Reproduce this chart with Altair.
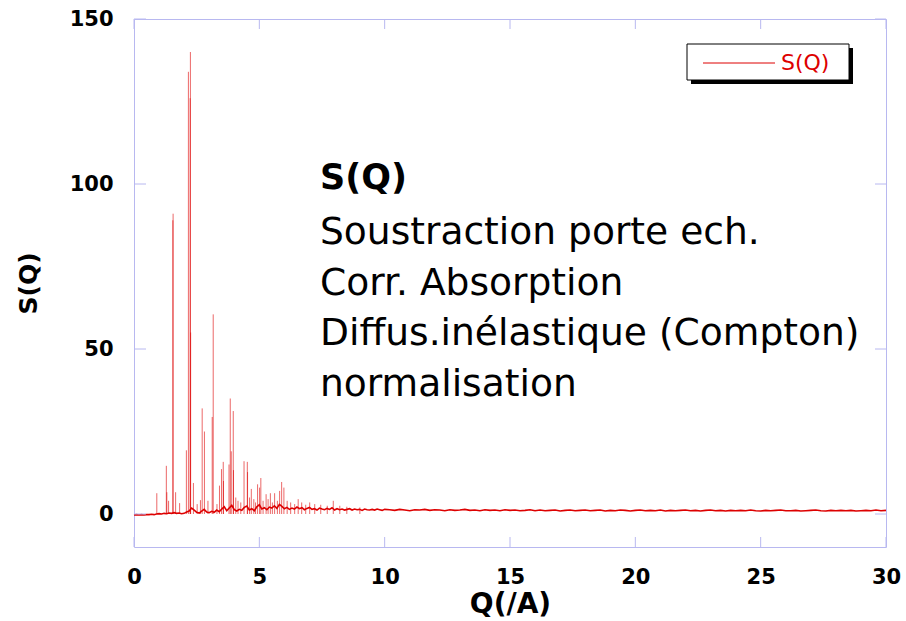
import altair as alt
import numpy as np
import pandas as pd

# Background level of S(Q), sampled every 0.1 up to Q = 10
base_q_low = np.round(np.arange(0.0, 10.0001, 0.1), 2)
base_s_low = [
    -0.3, -0.2, -0.3, -0.2, -0.3, -0.2, -0.2, -0.1, -0.2,
    0.0, 0.1, 0.0, 0.2, 0.1, 0.3, 0.2,
    0.4, 0.2, 0.3, 0.1, 0.2, 0.6, 0.9, 1.8, 1.2,
    0.5, 0.3, 0.9, 1.4, 0.6, 0.4, 0.8, 0.5, 1.2, 0.7,
    1.5, 2.2, 1.0, 1.8, 2.6, 1.3, 0.9, 1.4, 1.1, 2.0,
    2.4, 1.2, 1.6, 1.0, 2.2, 2.8, 1.5, 1.9, 1.3, 2.1,
    1.8, 2.5, 1.7, 2.9, 2.3, 1.6, 2.0, 1.4, 1.8, 1.5,
    2.1, 1.6, 1.9, 1.3, 1.7, 2.0, 1.4, 1.6, 1.2, 1.8,
    1.5, 1.3, 1.7, 1.4, 1.9, 1.2, 1.6, 1.3, 1.5, 1.2,
    1.4, 1.6, 1.2, 1.5, 1.3, 1.4, 1.1, 1.5, 1.3, 1.2,
    1.4, 1.2, 1.5, 1.3, 1.1, 1.4,
]

# ... and every 0.2 from Q = 10.2 to 30
base_q_high = np.round(np.arange(10.2, 30.0001, 0.2), 2)
base_s_high = [
    1.3, 1.1, 1.4, 1.2, 1.0, 1.3, 1.2, 1.4, 1.1, 1.3,
    1.2, 1.0, 1.3, 1.1, 1.2, 1.4, 1.1, 1.2, 1.0, 1.3,
    1.1, 1.2, 1.0, 1.3, 1.1, 1.2, 1.0, 1.1, 1.3, 1.0,
    1.2, 1.0, 1.1, 1.2, 0.9, 1.1, 1.2, 1.0, 1.1, 1.2,
    1.0, 1.1, 1.2, 0.9, 1.1, 1.0, 1.2, 1.1, 0.9, 1.1,
    1.2, 1.0, 1.1, 1.0, 1.2, 0.9, 1.1, 1.0, 1.1, 1.2,
    1.0, 1.1, 0.9, 1.1, 1.2, 1.0, 1.1, 0.9, 1.1, 1.0,
    1.1, 1.0, 1.2, 1.0, 0.9, 1.1, 1.0, 1.1, 1.2, 1.0,
    1.0, 1.1, 0.9, 1.0, 1.1, 1.2, 1.0, 0.9, 1.1, 1.0,
    1.1, 1.0, 1.1, 0.9, 1.0, 1.1, 1.0, 1.2, 1.0, 1.1,
]

# Bragg peaks (position, height)
peak_q = [
    0.91, 1.29, 1.31, 1.38, 1.55, 1.56, 1.66, 1.82,
    2.09, 2.17, 2.24, 2.25, 2.26, 2.37, 2.52, 2.65, 2.72, 2.81, 2.95,
    3.12, 3.16, 3.31, 3.41, 3.49, 3.56, 3.57, 3.79, 3.84, 3.88, 3.96, 3.97,
    4.06, 4.15, 4.26, 4.39, 4.52, 4.53, 4.61, 4.68, 4.78, 4.85, 4.93, 5.01, 5.06,
    5.15, 5.27, 5.35, 5.44, 5.52, 5.61, 5.72, 5.81, 5.89, 5.98,
    6.11, 6.25, 6.41, 6.55, 6.69, 6.85, 7.01, 7.21, 7.45, 7.71, 7.95,
    8.21, 8.49, 9.01,
]
peak_s = [
    6.3, 14.6, 6.6, 4.0, 89.0, 91.0, 6.6, 3.3,
    19.3, 134.0, 126.0, 140.0, 55.0, 9.4, 3.0, 4.2, 32.0, 25.0, 4.0,
    29.4, 60.5, 3.0, 8.6, 13.6, 15.8, 10.0, 15.0, 35.0, 19.0, 31.2, 13.3,
    5.0, 4.0, 3.5, 16.0, 15.8, 12.7, 5.0, 7.6, 4.5, 3.5, 9.0, 8.0, 10.9,
    4.0, 6.0, 4.5, 6.3, 3.5, 6.3, 4.0, 7.0, 9.7, 8.0,
    4.0, 3.5, 3.0, 4.5, 3.5, 2.8, 3.5, 3.0, 2.8, 2.5, 4.0,
    2.5, 2.2, 2.0,
]

x_ticks = [0, 5, 10, 15, 20, 25, 30]
y_ticks = [0, 50, 100, 150]

note_title = "S(Q)"
note_lines = [
    "Soustraction porte ech.",
    "Corr. Absorption",
    "Diffus.inélastique (Compton)",
    "normalisation",
]
series_name = "S(Q)"

RED = "#dd0000"
FRAME = "#b8b8f0"
W, H = 752, 528

background = pd.DataFrame({
    "q": np.concatenate([base_q_low, base_q_high]),
    "s": np.concatenate([base_s_low, base_s_high]),
})
peaks = pd.DataFrame({"q": peak_q, "s": peak_s})

xs = alt.Scale(domain=[0, 30], nice=False, zero=False)
ys = alt.Scale(domain=[-10, 150], nice=False, zero=False)

x_enc = alt.X("q:Q", scale=xs, title="Q(/A)",
              axis=alt.Axis(values=x_ticks, format="d", ticks=False, domain=False,
                            grid=False, labelPadding=19, labelFlush=False,
                            titleY=57, titleBaseline="middle", titleFontSize=28))
y_enc = alt.Y("s:Q", scale=ys, title="S(Q)",
              axis=alt.Axis(values=y_ticks, format="d", ticks=False, domain=False,
                            grid=False, labelPadding=21,
                            titleX=-106, titleY=264, titleBaseline="middle",
                            titleFontSize=25))

line = alt.Chart(background).mark_line(color=RED, strokeWidth=1.6).encode(
    x=x_enc, y=y_enc)

# narrow diffraction spikes rising from zero
spikes = alt.Chart(peaks).mark_rule(color=RED, strokeWidth=0.8, opacity=0.75).encode(
    x=alt.X("q:Q", scale=xs), y=alt.Y("s:Q", scale=ys), y2=alt.datum(0))

xt = pd.DataFrame({"q": x_ticks})
yt = pd.DataFrame({"s": y_ticks})

# inward tick marks on all four sides of the frame
ticks_bottom = alt.Chart(xt).mark_rule(color=FRAME, strokeWidth=1).encode(
    x=alt.X("q:Q", scale=xs), y=alt.value(H - 10), y2=alt.value(H))
ticks_top = alt.Chart(xt).mark_rule(color=FRAME, strokeWidth=1).encode(
    x=alt.X("q:Q", scale=xs), y=alt.value(0), y2=alt.value(10))
ticks_left = alt.Chart(yt).mark_rule(color=FRAME, strokeWidth=1).encode(
    y=alt.Y("s:Q", scale=ys), x=alt.value(0), x2=alt.value(12))
ticks_right = alt.Chart(yt).mark_rule(color=FRAME, strokeWidth=1).encode(
    y=alt.Y("s:Q", scale=ys), x=alt.value(W - 11), x2=alt.value(W))

# annotation block
note_layers = [
    alt.Chart(pd.DataFrame({"t": [note_title]})).mark_text(
        align="left", baseline="alphabetic", font="DejaVu Sans",
        fontSize=35, fontWeight="bold", color="black",
    ).encode(text="t:N", x=alt.value(186), y=alt.value(170))
]
for i, txt in enumerate(note_lines):
    note_layers.append(
        alt.Chart(pd.DataFrame({"t": [txt]})).mark_text(
            align="left", baseline="alphabetic", font="DejaVu Sans",
            fontSize=37.6, color="black",
        ).encode(text="t:N", x=alt.value(186), y=alt.value(225 + 50.5 * i))
    )

# legend box with drop shadow
one = pd.DataFrame({"k": [0]})
leg_shadow = alt.Chart(one).mark_rect(color="black").encode(
    x=alt.value(557), x2=alt.value(719), y=alt.value(29), y2=alt.value(65))
leg_box = alt.Chart(one).mark_rect(fill="white", stroke="black", strokeWidth=1).encode(
    x=alt.value(553), x2=alt.value(715), y=alt.value(25), y2=alt.value(61))
leg_line = alt.Chart(one).mark_rule(color=RED, strokeWidth=1).encode(
    x=alt.value(569), x2=alt.value(641), y=alt.value(44))
leg_text = alt.Chart(pd.DataFrame({"t": [series_name]})).mark_text(
    align="left", baseline="alphabetic", font="DejaVu Sans", fontSize=22, color=RED,
).encode(text="t:N", x=alt.value(647), y=alt.value(51))

chart = alt.layer(
    line, spikes, ticks_bottom, ticks_top, ticks_left, ticks_right,
    *note_layers, leg_shadow, leg_box, leg_line, leg_text,
).properties(
    width=W, height=H,
    autosize=alt.AutoSizeParams(type="none"),
    padding={"left": 134, "top": 19, "right": 20, "bottom": 74},
    background="white",
).configure_view(
    stroke=FRAME, strokeWidth=1,
).configure_axis(
    labelFont="DejaVu Sans", labelFontWeight="bold", labelFontSize=21,
    labelColor="black", titleFont="DejaVu Sans", titleFontWeight="bold",
    titleColor="black",
)

chart.save("out.html", embed_options={"renderer": "svg", "actions": False})
